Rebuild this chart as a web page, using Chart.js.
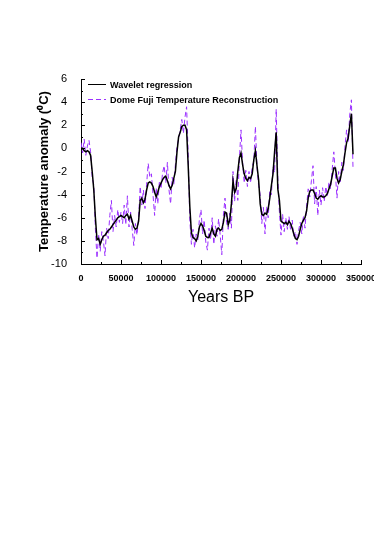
<!DOCTYPE html>
<html>
<head>
<meta charset="utf-8">
<title>Dome Fuji temperature anomaly</title>
<script src="https://cdn.jsdelivr.net/npm/chart.js@4.4.1/dist/chart.umd.min.js"></script>
<style>
  body { margin: 0; background: #fff; overflow: hidden; }
  #wrap { position: relative; width: 374px; height: 539px; overflow: hidden; }
  #legend {
    position: absolute; left: 88px; top: 77px;
    font: bold 9px "Liberation Sans", Arial, sans-serif; color: #000;
  }
  .row { display: flex; align-items: center; height: 15px; }
  .swatch { width: 18px; margin-right: 4px; }
  .solid { height: 1.5px; background: #000; }
  .dashed { height: 1px; background: repeating-linear-gradient(to right, #9b30ff 0 5px, transparent 5px 8px); }
</style>
</head>
<body>
<div id="wrap">
  <!-- canvas is wider than the page so the last x label gets cut off like the original -->
  <canvas id="chart" width="392" height="539"></canvas>
  <div id="legend">
    <div class="row"><span class="swatch solid"></span>Wavelet regression</div>
    <div class="row"><span class="swatch dashed"></span>Dome Fuji Temperature Reconstruction</div>
  </div>
</div>
<script>
// ==========================
// DATA (years BP, every 2000 years)
// ==========================

const years = [];
for (let y = 0; y <= 340000; y += 2000) years.push(y);

// smoothed wavelet regression, deg C
const wavelet = [
  -0.1, 0.0, -0.2, -0.3, -0.2, -0.3, -0.6, -2.0, -3.6, -6.0,
  -7.9, -7.8, -8.3, -7.9, -7.6, -7.5, -7.3, -7.1, -7.0, -6.8,
  -6.6, -6.4, -6.2, -6.0, -5.9, -5.8, -5.9, -6.0, -5.8, -5.7,
  -6.1, -5.8, -6.3, -6.8, -7.0, -6.9, -6.3, -4.5, -4.3, -4.7,
  -4.4, -3.6, -3.0, -2.9, -3.0, -3.3, -3.8, -4.2, -3.8, -3.3,
  -3.0, -2.7, -2.5, -2.4, -2.8, -3.2, -3.5, -3.2, -2.6, -2.0,
  -0.3, 1.0, 1.4, 1.9, 2.0, 2.0, 1.6, -1.5, -5.0, -7.3,
  -7.7, -7.8, -8.0, -7.6, -6.8, -6.5, -6.7, -7.1, -7.6, -7.7,
  -7.7, -7.3, -6.9, -7.4, -7.6, -7.0, -6.9, -7.1, -7.0, -6.4,
  -5.5, -5.6, -6.6, -6.2, -4.8, -2.8, -3.8, -3.5, -2.0, -0.8,
  -0.4, -1.4, -2.2, -2.6, -2.8, -2.5, -2.6, -2.2, -1.0, -0.2,
  -1.5, -2.7, -4.8, -5.7, -5.8, -5.6, -5.7, -5.2, -4.3, -3.2,
  -2.2, -0.3, 1.4, -3.5, -4.5, -6.3, -6.4, -6.5, -6.4, -6.6,
  -6.3, -6.5, -6.9, -7.4, -7.8, -7.9, -7.6, -7.0, -6.5, -6.2,
  -6.0, -5.4, -4.3, -3.7, -3.6, -3.6, -3.9, -4.3, -4.4, -4.2,
  -4.1, -4.2, -4.2, -4.1, -3.9, -3.5, -3.1, -2.4, -1.7, -1.7,
  -2.6, -3.0, -2.7, -2.0, -1.4, -0.4, 0.5, 0.9, 2.0, 3.0,
  -0.5
];

// Dome Fuji reconstruction, deg C
const domeFuji = [
  0.5, -0.4, 0.8, -0.6, 0.2, 0.7, -0.3, -2.5, -3.2, -7.0,
  -9.5, -7.4, -8.9, -7.2, -8.0, -9.3, -6.9, -7.8, -5.8, -4.5,
  -7.2, -5.8, -6.8, -5.3, -6.4, -5.5, -6.5, -4.9, -6.6, -4.1,
  -6.8, -5.5, -7.0, -8.4, -6.5, -7.5, -6.0, -3.3, -4.9, -3.6,
  -5.2, -3.1, -1.3, -2.5, -2.2, -4.0, -5.8, -3.4, -4.8, -2.8,
  -3.5, -2.1, -1.5, -3.0, -1.2, -3.6, -4.8, -2.5, -3.1, -1.4,
  0.2, 0.8, 1.6, 2.5, 1.3, 2.7, 3.6, -0.5, -6.2, -8.3,
  -7.0, -8.6, -7.4, -7.9, -6.1, -5.3, -7.4, -6.2, -8.1, -8.8,
  -6.9, -7.9, -6.0, -8.3, -6.7, -7.6, -6.1, -7.5, -9.2, -5.8,
  -4.3, -6.4, -7.0, -5.6, -6.9, -2.0, -4.6, -2.7, -4.5, -0.9,
  1.6, -1.2, -3.0, -1.9, -3.3, -2.0, -3.0, -1.6, -1.1, 1.9,
  -1.6, -3.2, -4.0, -6.5, -5.1, -7.4, -5.0, -6.0, -3.6, -4.0,
  -1.6, -2.1, 3.4, -2.5, -5.5, -7.5, -5.7, -7.2, -6.0, -7.0,
  -5.9, -7.1, -6.2, -7.6, -7.2, -8.3, -7.1, -6.4, -7.4, -5.8,
  -6.9, -5.0, -3.5, -4.2, -2.8, -1.5, -4.8, -3.3, -5.8, -3.6,
  -4.9, -3.4, -4.6, -3.3, -4.1, -2.9, -3.5, -1.8, -0.3, -2.2,
  -4.3, -2.0, -3.0, -1.2, -1.9, 0.2, 1.6, 0.6, 3.0, 4.2,
  -1.7
];

const xMin = 0, xMax = 350000, xStep = 50000;
const yMin = -10, yMax = 6, yStep = 2;

// ==========================
// INWARD TICK MARKS
// ==========================

const innerTicks = {
  id: "innerTicks",
  afterDraw(chart) {
    const ctx = chart.ctx;
    const xs = chart.scales.x, ys = chart.scales.y;
    const area = chart.chartArea;
    ctx.save();
    ctx.strokeStyle = "#000";
    ctx.lineWidth = 1;
    ctx.beginPath();
    for (let v = xMin; v <= xMax; v += xStep / 2) {
      const px = Math.round(xs.getPixelForValue(v)) + 0.5;
      const len = (v % xStep === 0) ? 4 : 2;
      ctx.moveTo(px, area.bottom);
      ctx.lineTo(px, area.bottom - len);
    }
    for (let v = yMin; v <= yMax; v += yStep / 2) {
      const py = Math.round(ys.getPixelForValue(v)) + 0.5;
      const len = (v % yStep === 0) ? 4 : 2;
      ctx.moveTo(area.left, py);
      ctx.lineTo(area.left + len, py);
    }
    ctx.stroke();
    ctx.restore();
  }
};

// ==========================
// CHART
// ==========================

const font = "'Liberation Sans', Arial, sans-serif";

new Chart(document.getElementById("chart"), {
  type: "line",
  data: {
    datasets: [
      {
        label: "Wavelet regression",
        data: years.map((x, i) => ({ x: x, y: wavelet[i] })),
        borderColor: "#000",
        borderWidth: 1.5,
        pointRadius: 0,
        tension: 0
      },
      {
        label: "Dome Fuji Temperature Reconstruction",
        data: years.map((x, i) => ({ x: x, y: domeFuji[i] })),
        borderColor: "#9b30ff",
        borderWidth: 1,
        borderDash: [5, 3],
        pointRadius: 0,
        tension: 0
      }
    ]
  },
  options: {
    responsive: false,
    animation: false,
    layout: { padding: { left: 0, top: 79, right: 31, bottom: 232 } },
    plugins: { legend: { display: false }, tooltip: { enabled: false } },
    scales: {
      x: {
        type: "linear",
        min: xMin, max: xMax,
        grid: { display: false },
        border: { display: true, color: "#000", width: 1 },
        ticks: {
          stepSize: xStep,
          padding: 1,
          color: "#000",
          font: { family: font, size: 9, weight: "bold" },
          maxRotation: 0,
          autoSkip: false,
          callback: (v) => String(v)
        },
        title: {
          display: true,
          text: "Years BP",
          color: "#000",
          padding: { top: 0, bottom: 0 },
          font: { family: font, size: 16 }
        },
        afterFit: (s) => { s.height = 43; }
      },
      y: {
        min: yMin, max: yMax,
        grid: { display: false },
        border: { display: true, color: "#000", width: 1 },
        ticks: {
          stepSize: yStep,
          padding: 6,
          color: "#000",
          font: { family: font, size: 11 }
        },
        title: {
          display: true,
          text: "Temperature anomaly (\u2070C)",
          color: "#000",
          padding: { top: 37, bottom: 0 },
          font: { family: font, size: 13, weight: "bold" }
        },
        afterFit: (s) => { s.width = 81; }
      }
    }
  },
  plugins: [innerTicks]
});
</script>
</body>
</html>
